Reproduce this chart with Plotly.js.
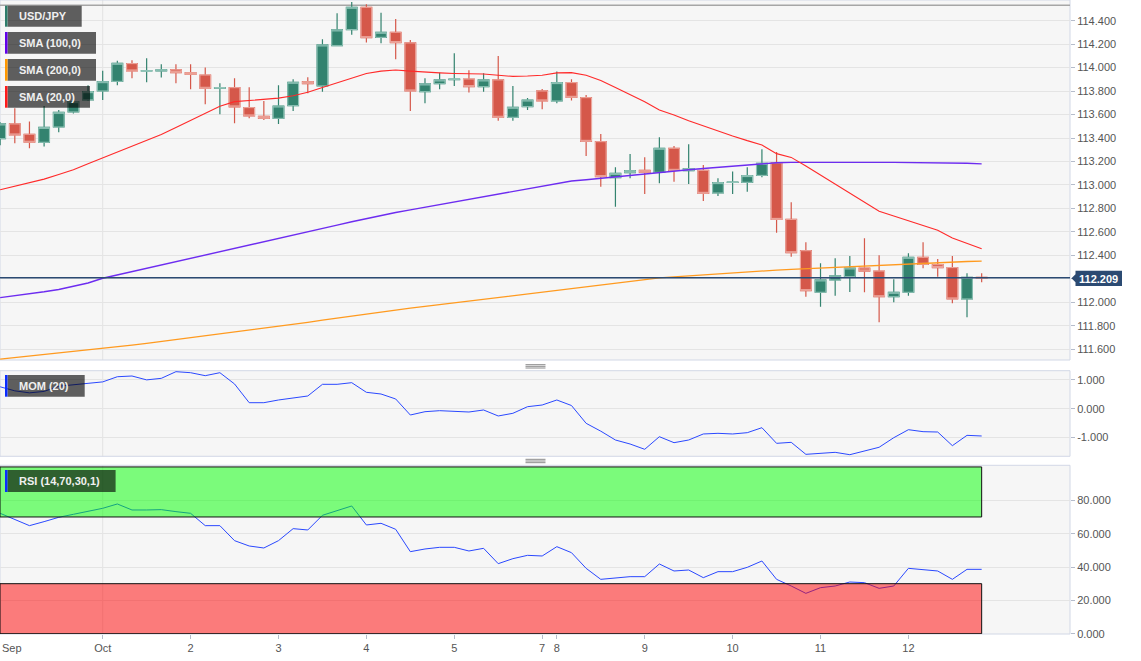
<!DOCTYPE html>
<html><head><meta charset="utf-8">
<script src="https://cdn.plot.ly/plotly-3.0.1.min.js"></script>
<style>html,body{margin:0;padding:0;background:#fff;}#chart{width:1141px;height:661px;}</style>
</head><body><div id="chart"></div>
<script>
// ---- DATA (4-hour candles, USD/JPY) ----
const sessions = [['Sep 28',6],['Sep 30',1],['Oct 1',6],['Oct 2',6],['Oct 3',6],['Oct 4',6],['Oct 5',6],['Oct 7',1],['Oct 8',6],['Oct 9',6],['Oct 10',6],['Oct 11',6],['Oct 12',6]];
const tickDays   = ['Oct 1','Oct 2','Oct 3','Oct 4','Oct 5','Oct 7','Oct 8','Oct 9','Oct 10','Oct 11','Oct 12'];
const tickLabels = ['Oct','2','3','4','5','7','8','9','10','11','12'];
const leftMonthLabel = 'Sep';

const opens  = [113.395,113.520,113.432,113.364,113.494,113.622,113.725,113.801,113.883,114.034,113.971,113.971,113.980,113.957,113.937,113.824,113.829,113.659,113.585,113.568,113.676,113.880,113.844,114.187,114.324,114.514,114.258,114.301,114.210,113.795,113.863,113.898,113.903,113.838,113.895,113.577,113.668,113.801,113.716,113.872,113.744,113.369,113.063,113.105,113.125,113.108,113.313,113.122,113.125,112.932,113.022,113.023,113.082,113.188,112.707,112.440,112.086,112.191,112.219,112.293,112.267,112.048,112.086,112.384,112.321,112.296,112.029,112.213];
const highs  = [113.535,113.653,113.540,113.673,113.639,113.716,113.850,113.974,114.059,114.062,114.079,114.028,114.028,114.028,114.000,113.866,113.909,113.832,113.716,113.849,113.900,113.917,114.241,114.463,114.559,114.539,114.468,114.414,114.236,113.909,113.957,114.122,113.977,113.951,114.099,113.844,113.741,113.818,113.966,113.900,113.767,113.435,113.151,113.264,113.236,113.406,113.332,113.347,113.170,113.057,113.114,113.151,113.304,113.280,112.852,112.512,112.333,112.375,112.395,112.546,112.401,112.196,112.418,112.512,112.369,112.395,112.247,112.247];
const lows   = [113.338,113.355,113.312,113.327,113.449,113.610,113.715,113.724,113.849,113.909,113.875,113.915,113.866,113.815,113.687,113.602,113.526,113.568,113.554,113.520,113.631,113.781,113.795,114.184,114.281,114.213,114.207,114.071,113.631,113.696,113.815,113.844,113.787,113.795,113.548,113.548,113.639,113.645,113.696,113.719,113.247,112.986,112.815,113.057,112.923,113.014,113.028,113.009,112.864,112.906,112.923,112.943,113.065,112.594,112.389,112.048,111.963,112.057,112.088,112.086,111.830,112.000,112.057,112.290,112.219,111.992,111.873,112.171];
const closes = [113.520,113.426,113.364,113.491,113.619,113.710,113.795,113.880,114.037,113.971,113.972,113.980,113.957,113.943,113.824,113.830,113.665,113.588,113.568,113.673,113.875,113.863,114.193,114.321,114.514,114.255,114.301,114.213,113.801,113.861,113.895,113.903,113.838,113.895,113.577,113.662,113.724,113.716,113.872,113.747,113.372,113.071,113.099,113.122,113.108,113.313,113.125,113.139,112.929,113.020,113.024,113.080,113.185,112.707,112.423,112.100,112.191,112.225,112.293,112.267,112.048,112.086,112.384,112.324,112.296,112.029,112.213,112.209];

const sma20  = [112.96,112.99,113.02,113.05,113.09,113.13,113.18,113.23,113.28,113.33,113.38,113.43,113.49,113.55,113.61,113.67,113.71,113.72,113.73,113.74,113.76,113.79,113.83,113.87,113.91,113.95,113.97,113.98,113.97,113.96,113.955,113.95,113.947,113.945,113.935,113.925,113.928,113.935,113.955,113.957,113.935,113.89,113.83,113.77,113.71,113.639,113.597,113.548,113.503,113.46,113.418,113.378,113.341,113.267,113.235,113.161,113.085,113.008,112.931,112.854,112.777,112.736,112.697,112.655,112.614,112.549,112.503,112.457];
const sma100 = [112.04,112.055,112.07,112.09,112.11,112.135,112.165,112.205,112.233,112.262,112.29,112.318,112.347,112.375,112.403,112.432,112.46,112.488,112.517,112.545,112.573,112.602,112.63,112.658,112.687,112.715,112.743,112.766,112.788,112.81,112.833,112.855,112.878,112.9,112.922,112.945,112.967,112.99,113.012,113.034,113.045,113.058,113.07,113.082,113.093,113.105,113.118,113.13,113.14,113.15,113.16,113.172,113.183,113.19,113.193,113.194,113.194,113.194,113.194,113.193,113.193,113.193,113.192,113.192,113.191,113.19,113.185,113.18];
const sma200 = [111.517,111.53,111.542,111.555,111.567,111.58,111.592,111.605,111.62,111.636,111.651,111.667,111.682,111.698,111.713,111.729,111.744,111.76,111.776,111.794,111.812,111.83,111.848,111.866,111.884,111.902,111.92,111.935,111.951,111.966,111.981,111.997,112.012,112.027,112.043,112.058,112.073,112.089,112.104,112.119,112.134,112.15,112.165,112.18,112.196,112.208,112.217,112.226,112.235,112.244,112.252,112.26,112.268,112.275,112.281,112.287,112.293,112.299,112.305,112.311,112.317,112.323,112.328,112.333,112.338,112.343,112.348,112.352];

const mom = [0.76,0.62,0.55,0.60,0.78,0.84,0.88,0.93,1.11,1.135,1.0,1.054,1.285,1.25,1.146,1.25,0.858,0.208,0.208,0.302,0.37,0.441,0.846,0.846,0.903,0.569,0.51,0.337,-0.219,-0.104,-0.069,-0.08,-0.115,-0.045,-0.253,-0.16,0.069,0.128,0.302,0.11,-0.508,-0.78,-1.087,-1.226,-1.41,-0.972,-1.18,-1.087,-0.878,-0.855,-0.878,-0.833,-0.66,-1.203,-1.168,-1.585,-1.562,-1.515,-1.597,-1.48,-1.34,-1.007,-0.729,-0.798,-0.81,-1.284,-0.925,-0.948];
const rsi = [72.2,68.6,64.8,67.2,69.8,71.6,73.4,75.2,77.8,74.2,74.2,74.4,73.2,72.2,64.8,64.8,55.8,52.6,51.4,55.8,63.0,62.2,71.0,73.8,76.6,65.2,66.2,62.6,49.2,50.8,51.8,51.8,49.6,51.2,42.0,45.0,47.0,46.6,52.2,48.6,39.2,32.6,33.2,34.2,34.2,41.8,37.6,38.2,33.6,37.2,37.2,39.8,43.6,32.6,28.6,24.2,27.6,28.6,31.0,30.6,27.2,28.6,39.2,38.2,37.6,32.6,38.6,38.6];
const rsiUpper = 70, rsiLower = 30, rsiTop = 100;

const priceTicks = [111.6,111.8,112.0,112.2,112.4,112.6,112.8,113.0,113.2,113.4,113.6,113.8,114.0,114.2,114.4];
const momTicks = [1,0,-1];
const rsiTicks = [0,20,40,60,80];

const legendItems = [
  {text:'USD/JPY', color:'#2e7d6b'},
  {text:'SMA (100,0)', color:'#6200ea'},
  {text:'SMA (200,0)', color:'#ff9800'},
  {text:'SMA (20,0)', color:'#ff1a1a'},
  {text:'MOM (20)', color:'#0a2cff'},
  {text:'RSI (14,70,30,1)', color:'#0a2cff'}
];

// ---- LAYOUT HELPERS (pixel geometry of the plot area) ----
const W = 1070, H = 634;
const px = x => x / W;
const py = y => 1 - y / H;
const FONT = 'Liberation Sans, Arial, sans-serif';

const candleDay = [];
sessions.forEach(([d, k]) => { for (let j = 0; j < k; j++) candleDay.push(d); });
const xs = closes.map((_, i) => i);
const tickVals = tickDays.map(d => candleDay.indexOf(d));
const lastIdx = closes.length - 1;
const lastClose = closes[lastIdx];

const UP = '#33836f', DN = '#d5584a';
const bodyHigh = opens.map((o, i) => Math.max(o, closes[i]));
const bodyLow  = opens.map((o, i) => Math.min(o, closes[i]));

const traces = [
  {type:'candlestick', x:xs, open:opens, high:highs, low:lows, close:closes, xaxis:'x', yaxis:'y',
   increasing:{line:{color:UP, width:1.2}, fillcolor:UP}, decreasing:{line:{color:DN, width:1.2}, fillcolor:DN},
   whiskerwidth:0, hoverinfo:'skip', showlegend:false},
  {type:'candlestick', x:xs, open:opens, high:bodyHigh, low:bodyLow, close:closes, xaxis:'x', yaxis:'y',
   increasing:{line:{color:'#93c6ba', width:1}, fillcolor:UP}, decreasing:{line:{color:'#eeaaa1', width:1}, fillcolor:DN},
   whiskerwidth:0, hoverinfo:'skip', showlegend:false},
  {type:'scatter', mode:'lines', x:xs, y:sma200, line:{color:'#ff9a1f', width:1.3}, xaxis:'x', yaxis:'y', hoverinfo:'skip'},
  {type:'scatter', mode:'lines', x:xs, y:sma100, line:{color:'#6d2cf0', width:1.4}, xaxis:'x', yaxis:'y', hoverinfo:'skip'},
  {type:'scatter', mode:'lines', x:xs, y:sma20, line:{color:'#ff2a2a', width:1.1}, xaxis:'x', yaxis:'y', hoverinfo:'skip'},
  {type:'scatter', mode:'lines', x:xs, y:mom, line:{color:'#2a48ff', width:1}, xaxis:'x', yaxis:'y2', hoverinfo:'skip'},
  {type:'scatter', mode:'lines', x:xs, y:rsi, line:{color:'#2a48ff', width:1}, xaxis:'x', yaxis:'y3', hoverinfo:'skip'}
];

const tickFont = {family:FONT, size:11, color:'#555'};
const yCommon = {side:'right', ticks:'outside', ticklen:4, tickcolor:'#b5bccb', tickfont:tickFont,
  gridcolor:'#e4e4e4', gridwidth:1, zeroline:false, showline:false, fixedrange:true};

// domains in paper units
const domMain = [py(360), 1], domMom = [py(456.3), py(370.7)], domRsi = [0, py(465.3)];

const shapes = [];
// Oct vertical grid line in each panel
[domMain, domMom, domRsi].forEach(d => shapes.push({type:'line', xref:'x', yref:'paper', x0:tickVals[0], x1:tickVals[0], y0:d[0], y1:d[1], line:{color:'#e2e2e2', width:1}, layer:'below'}));
// panel borders
[domMain, domMom, domRsi].forEach(d => shapes.push({type:'rect', xref:'paper', yref:'paper', x0:0, x1:1, y0:d[0], y1:d[1], line:{color:'#d2d8e6', width:1}, fillcolor:'rgba(0,0,0,0)', layer:'below'}));
// top grey line of main panel
shapes.push({type:'line', xref:'paper', yref:'paper', x0:0, x1:1, y0:py(5.3), y1:py(5.3), line:{color:'#a6a6a6', width:1.5}, layer:'below'});
// panel separators (grip icons)
[364.7,366.3,368, 459.3,461,462.7].forEach(y => shapes.push({type:'line', xref:'paper', yref:'paper', x0:px(525.5), x1:px(545.5), y0:py(y), y1:py(y), line:{color:'#8a8a8a', width:1}, layer:'above'}));
// RSI zones
shapes.push({type:'rect', xref:'x', yref:'y3', x0:-0.01, x1:lastIdx, y0:rsiUpper, y1:rsiTop, fillcolor:'rgba(0,255,0,0.5)', line:{color:'#111', width:1}, layer:'above'});
shapes.push({type:'rect', xref:'x', yref:'y3', x0:-0.01, x1:lastIdx, y0:0, y1:rsiLower, fillcolor:'rgba(255,0,0,0.5)', line:{color:'#111', width:1}, layer:'above'});
// current price line
shapes.push({type:'line', xref:'paper', yref:'y', x0:0, x1:1, y0:lastClose, y1:lastClose, line:{color:'#2b4a72', width:1.5}, layer:'above'});
// price tag
shapes.push({type:'path', xref:'paper', yref:'paper',
  path:`M ${px(1071.5)},${py(278.3)} L ${px(1075.5)},${py(274.3)} L ${px(1075.5)},${py(270.7)} L ${px(1122)},${py(270.7)} L ${px(1122)},${py(286)} L ${px(1075.5)},${py(286)} L ${px(1075.5)},${py(282.3)} Z`,
  fillcolor:'#2b4a72', line:{width:0}, layer:'above'});

// legend boxes
const boxGeom = [[81.7,5.7,26.7],[96,32,53.7],[96,59,80.7],[90,86,107.7],[84.7,375,396.7],[115.6,470,492]];
const annotations = [];
legendItems.forEach((it, k) => {
  const [x1, y0, y1] = boxGeom[k];
  shapes.push({type:'rect', xref:'paper', yref:'paper', x0:px(7.5), x1:px(x1), y0:py(y1), y1:py(y0), fillcolor:'rgba(0,0,0,0.62)', line:{width:0}, layer:'above'});
  shapes.push({type:'rect', xref:'paper', yref:'paper', x0:px(5), x1:px(7.5), y0:py(y1), y1:py(y0), fillcolor:it.color, line:{width:0}, layer:'above'});
  annotations.push({xref:'paper', yref:'paper', x:px(16.5), y:py((y0+y1)/2), xanchor:'left', yanchor:'middle', showarrow:false,
    text:'<b>' + it.text + '</b>', font:{family:FONT, size:11, color:'#f0f0f0'}});
});
annotations.push({xref:'paper', yref:'paper', x:px(1098.7), y:py(278.6), xanchor:'center', yanchor:'middle', showarrow:false,
  text:'<b>' + lastClose.toFixed(3) + '</b>', font:{family:FONT, size:11, color:'#ffffff'}});
annotations.push({xref:'paper', yref:'paper', x:0, y:py(648.3), xanchor:'left', yanchor:'middle', showarrow:false,
  text:leftMonthLabel, font:tickFont});

const layout = {
  width:1141, height:661,
  margin:{l:0, r:71, t:0, b:27, pad:0},
  paper_bgcolor:'#ffffff', plot_bgcolor:'#f6f6f6',
  showlegend:false, boxgap:0.27, boxgroupgap:0,
  xaxis:{type:'linear', range:[-0.01, 73.03], anchor:'y3', showgrid:false, zeroline:false, showline:false,
    tickvals:tickVals, ticktext:tickLabels, ticks:'outside', ticklen:4, tickcolor:'#b5bccb', tickfont:tickFont,
    rangeslider:{visible:false}, fixedrange:true},
  yaxis:Object.assign({}, yCommon, {domain:domMain, range:[111.509, 114.576], tickvals:priceTicks, tickformat:'.3f', anchor:'x'}),
  yaxis2:Object.assign({}, yCommon, {domain:domMom, range:[-1.653, 1.319], tickvals:momTicks, ticktext:momTicks.map(v => v.toFixed(3)), anchor:'x'}),
  yaxis3:Object.assign({}, yCommon, {domain:domRsi, range:[-0.18, 100.99], tickvals:rsiTicks, ticktext:rsiTicks.map(v => v.toFixed(3)), anchor:'x'}),
  shapes:shapes, annotations:annotations
};

Plotly.newPlot('chart', traces, layout, {staticPlot:true, displayModeBar:false});
</script></body></html>
